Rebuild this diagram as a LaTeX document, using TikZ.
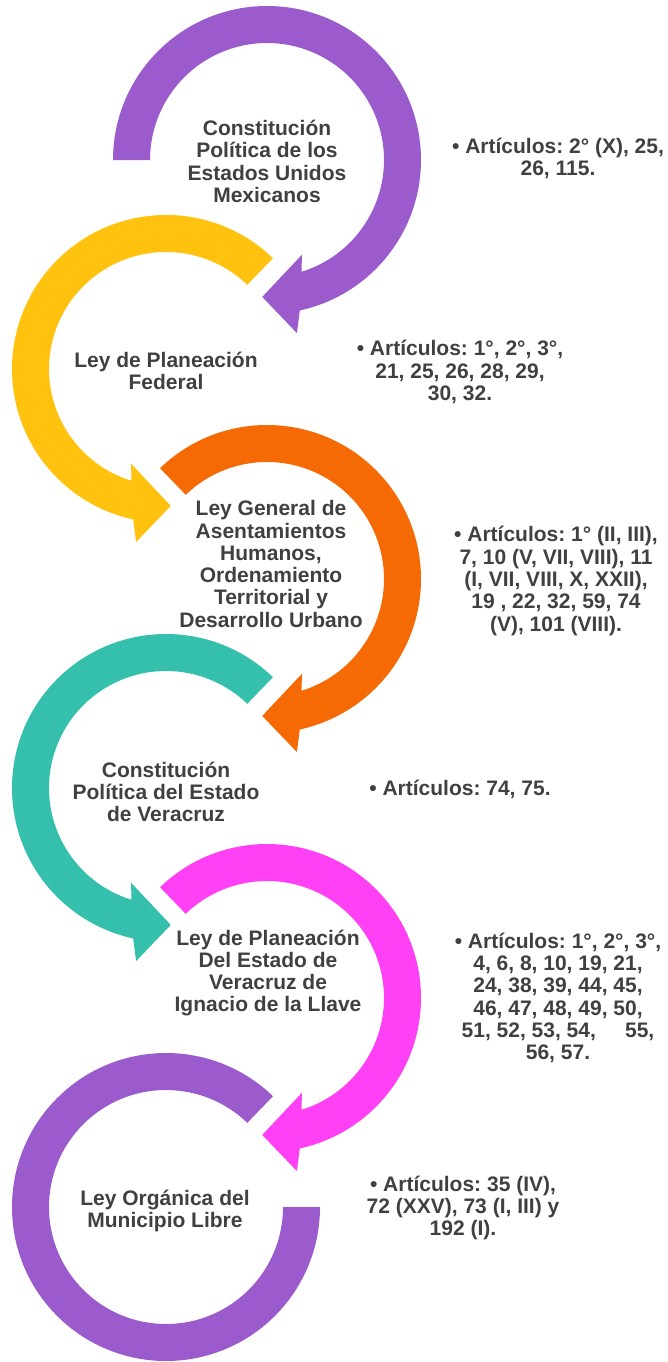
\documentclass[tikz,border=0pt]{standalone}
\usepackage{fontspec}
\setmainfont{Liberation Sans}
\frenchspacing
\definecolor{cpurple}{HTML}{9C5BCD}
\definecolor{cyellow}{HTML}{FEC20F}
\definecolor{corange}{HTML}{F56A05}
\definecolor{cteal}{HTML}{35C0AE}
\definecolor{cmagenta}{HTML}{FF40F5}
\definecolor{tgray}{HTML}{404040}
\newcommand\RingOdd[2]{%
  \fill[#2] (#1:154pt) arc[start angle=#1, end angle=-77.7, radius=154pt]
    -- (-80.2:175.6pt) -- (-92:137pt) -- (-69.8:101pt) -- (-72.8:117pt)
    arc[start angle=-72.8, end angle=#1, radius=117pt] -- cycle;}
\newcommand\RingEven[2]{%
  \fill[#2] (#1:154pt) arc[start angle=#1, end angle=257.7, radius=154pt]
    -- (260.2:175.6pt) -- (272:137pt) -- (249.8:101pt) -- (252.8:117pt)
    arc[start angle=252.8, end angle=#1, radius=117pt] -- cycle;}
\tikzset{
  lawtxt/.style={font=\fontsize{21}{22.3}\selectfont\bfseries, text=tgray, align=center, inner sep=0pt},
  arttxt/.style={font=\fontsize{21}{22.3}\selectfont\bfseries, text=tgray, align=center, inner sep=0pt}
}
\begin{document}
\begin{tikzpicture}[x=1pt,y=1pt]
\useasboundingbox (0,0) rectangle (667,-1362);
% rings
\begin{scope}[shift={(267pt,-160pt)}]\RingOdd{180}{cpurple}\end{scope}
\begin{scope}[shift={(166pt,-369pt)}]\RingEven{46}{cyellow}\end{scope}
\begin{scope}[shift={(267pt,-579pt)}]\RingOdd{134}{corange}\end{scope}
\begin{scope}[shift={(166pt,-788pt)}]\RingEven{46}{cteal}\end{scope}
\begin{scope}[shift={(267pt,-998pt)}]\RingOdd{134}{cmagenta}\end{scope}
\begin{scope}[shift={(166pt,-1207pt)}]
  \fill[cpurple] (46:154pt) arc[start angle=46, end angle=360, radius=154pt]
    -- (0:117pt) arc[start angle=360, end angle=46, radius=117pt] -- cycle;
\end{scope}
% law texts
\node[lawtxt] (l1) at (267,-161.5) {Constitución\\Política de los\\Estados Unidos\\Mexicanos};
\node[lawtxt] (l2) at (166,-371) {Ley de Planeación\\Federal};
\node[lawtxt] (l3) at (271,-564) {Ley General de\\Asentamientos\\Humanos,\\Ordenamiento\\Territorial y\\Desarrollo Urbano};
\node[lawtxt] (l4) at (166,-792) {Constitución\\Política del Estado\\de Veracruz};
\node[lawtxt] (l5) at (268,-973) {Ley de Planeación\\Del Estado de\\Veracruz de\\Ignacio de la Llave};
\node[lawtxt] (l6) at (165,-1211) {Ley Orgánica del\\Municipio Libre};
% article texts
\node[arttxt] (a1) at (558,-158.5) {• Artículos: 2° (X), 25,\\26, 115.};
\node[arttxt] (a2) at (460,-372) {• Artículos: 1°, 2°, 3°,\\21, 25, 26, 28, 29,\\30, 32.};
\node[arttxt] (a3) at (556,-581) {• Artículos: 1° (II, III),\\7, 10 (V, VII, VIII), 11\\(I, VII, VIII, X, XXII),\\19 , 22, 32, 59, 74\\(V), 101 (VIII).};
\node[arttxt] (a4) at (460,-789) {• Artículos: 74, 75.};
\node[arttxt] (a5) at (558,-998) {• Artículos: 1°, 2°, 3°,\\4, 6, 8, 10, 19, 21,\\24, 38, 39, 44, 45,\\46, 47, 48, 49, 50,\\51, 52, 53, 54,~~~~~55,\\56, 57.};
\node[arttxt] (a6) at (463,-1208) {• Artículos: 35 (IV),\\72 (XXV), 73 (I, III) y\\192 (I).};
\end{tikzpicture}
\end{document}
